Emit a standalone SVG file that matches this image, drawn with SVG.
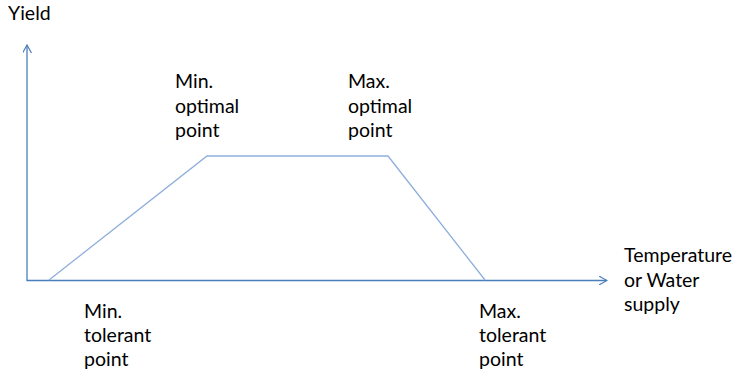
<svg xmlns="http://www.w3.org/2000/svg" width="735" height="372" viewBox="0 0 735 372">
<style>
text{font-family:"Lato","Open Sans","Liberation Sans",sans-serif;font-size:19.5px;fill:#000}
.ax{stroke:#4a7ebb;stroke-width:1.3;fill:none}
.cv{stroke:#8eaedb;stroke-width:1.3;fill:none}
</style>
<defs>
<marker id="arr" viewBox="0 0 10 10" refX="9" refY="5" markerWidth="9" markerHeight="9" markerUnits="userSpaceOnUse" orient="auto">
<path d="M0,0 L9,5 L0,10" fill="none" stroke="#4a7ebb" stroke-width="1.3"/>
</marker>
</defs>
<g id="connectors">
<line class="ax" x1="27" y1="280.5" x2="27" y2="45" marker-end="url(#arr)"/>
<line class="ax" x1="26.5" y1="280.5" x2="607" y2="280.5" marker-end="url(#arr)"/>
<polyline class="cv" points="49,280 207,156 388,156 485,280"/>
</g>
<g id="yield"><text x="8" y="20">Yield</text></g>
<g id="min-optimal"><text x="175" y="88">Min.</text><text x="175" y="113">optimal</text><text x="175" y="137">point</text></g>
<g id="max-optimal"><text x="348" y="88">Max.</text><text x="348" y="113">optimal</text><text x="348" y="137">point</text></g>
<g id="min-tolerant"><text x="84" y="318">Min.</text><text x="84" y="342">tolerant</text><text x="84" y="366">point</text></g>
<g id="max-tolerant"><text x="479" y="318">Max.</text><text x="479" y="342">tolerant</text><text x="479" y="366">point</text></g>
<g id="x-label"><text x="624" y="262">Temperature</text><text x="624" y="287">or Water</text><text x="624" y="311">supply</text></g>
</svg>
